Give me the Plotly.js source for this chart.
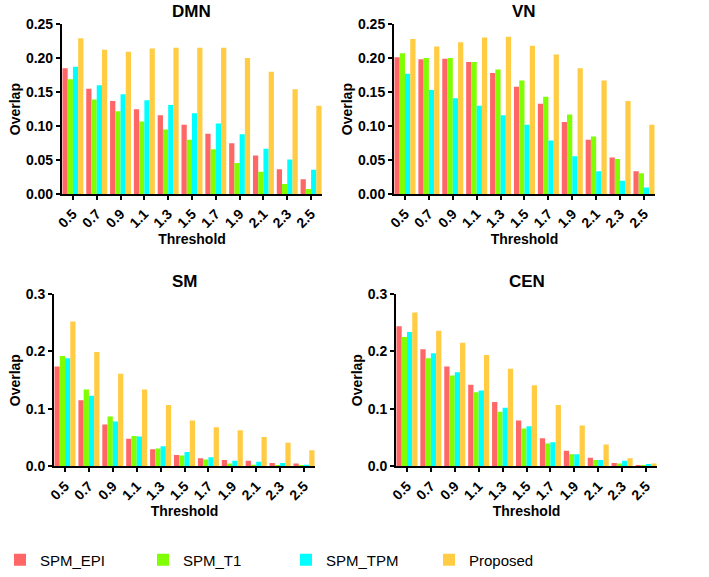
<!DOCTYPE html>
<html>
<head>
<meta charset="utf-8">
<script src="https://cdn.plot.ly/plotly-3.0.1.min.js"></script>
<style>
  html, body { margin: 0; padding: 0; background: #fff; }
  #plot { width: 709px; height: 577px; }
</style>
</head>
<body>
<div id="plot"></div>
<script>
// thresholds shared by all four panels
const thresholds = ['0.5', '0.7', '0.9', '1.1', '1.3', '1.5', '1.7', '1.9', '2.1', '2.3', '2.5'];
const methods = ['SPM_EPI', 'SPM_T1', 'SPM_TPM', 'Proposed'];
const colors = ['#ff6666', '#80ff00', '#00ffff', '#ffcc44'];

// DMN
const dmnEpi = [0.185, 0.155, 0.137, 0.125, 0.116, 0.102, 0.089, 0.075, 0.057, 0.037, 0.022];
const dmnT1 = [0.169, 0.139, 0.122, 0.107, 0.095, 0.080, 0.066, 0.046, 0.033, 0.015, 0.008];
const dmnTpm = [0.187, 0.160, 0.147, 0.138, 0.131, 0.119, 0.104, 0.088, 0.067, 0.051, 0.036];
const dmnProp = [0.229, 0.212, 0.209, 0.214, 0.215, 0.215, 0.215, 0.200, 0.180, 0.154, 0.130];

// VN
const vnEpi = [0.201, 0.198, 0.199, 0.194, 0.178, 0.158, 0.133, 0.106, 0.080, 0.054, 0.034];
const vnT1 = [0.207, 0.200, 0.200, 0.194, 0.183, 0.167, 0.143, 0.117, 0.085, 0.052, 0.031];
const vnTpm = [0.177, 0.153, 0.141, 0.130, 0.116, 0.102, 0.079, 0.056, 0.034, 0.020, 0.010];
const vnProp = [0.228, 0.217, 0.223, 0.230, 0.231, 0.218, 0.205, 0.185, 0.167, 0.137, 0.102];

// SM
const smEpi = [0.174, 0.115, 0.073, 0.048, 0.030, 0.020, 0.014, 0.011, 0.010, 0.006, 0.005];
const smT1 = [0.192, 0.134, 0.087, 0.053, 0.031, 0.019, 0.012, 0.005, 0.003, 0.002, 0.001];
const smTpm = [0.188, 0.123, 0.078, 0.052, 0.035, 0.025, 0.016, 0.010, 0.008, 0.006, 0.003];
const smProp = [0.252, 0.199, 0.161, 0.134, 0.107, 0.080, 0.068, 0.063, 0.051, 0.041, 0.028];

// CEN
const cenEpi = [0.244, 0.204, 0.174, 0.142, 0.112, 0.080, 0.049, 0.027, 0.015, 0.006, 0.002];
const cenT1 = [0.225, 0.188, 0.158, 0.129, 0.095, 0.066, 0.040, 0.021, 0.011, 0.005, 0.002];
const cenTpm = [0.234, 0.197, 0.164, 0.132, 0.102, 0.070, 0.042, 0.021, 0.011, 0.010, 0.004];
const cenProp = [0.268, 0.236, 0.215, 0.194, 0.170, 0.141, 0.107, 0.071, 0.038, 0.014, 0.005];

const panels = [
    {name: 'DMN', series: [dmnEpi, dmnT1, dmnTpm, dmnProp], ax: ''},
    {name: 'VN', series: [vnEpi, vnT1, vnTpm, vnProp], ax: '2'},
    {name: 'SM', series: [smEpi, smT1, smTpm, smProp], ax: '3'},
    {name: 'CEN', series: [cenEpi, cenT1, cenTpm, cenProp], ax: '4'}
];

const data = [];
panels.forEach((p, pi) => {
    p.series.forEach((vals, si) => {
        data.push({
            type: 'bar',
            x: thresholds,
            y: vals,
            name: methods[si],
            marker: {color: colors[si], line: {width: 0}},
            xaxis: 'x' + p.ax,
            yaxis: 'y' + p.ax,
            showlegend: pi === 0,
            hovertemplate: p.name + ' ' + methods[si] + '<br>Threshold %{x}: %{y:.3f}<extra></extra>'
        });
    });
});

const bold = {family: 'Liberation Sans, Arial, sans-serif', size: 14, color: '#000', weight: 'bold'};

function xAxis(domain, anchor) {
    return {
        domain: domain, anchor: anchor, type: 'category',
        range: [-0.46, 10.46],
        showline: true, linecolor: '#000', linewidth: 2,
        ticks: 'outside', ticklen: 4, tickwidth: 2, tickcolor: '#000',
        tickangle: -45, tickfont: bold, showgrid: false, zeroline: false,
        title: {text: 'Threshold', font: {...bold, size: 14}, standoff: 4},
        fixedrange: true
    };
}

function yAxis(domain, anchor, max, dtick, fmt) {
    return {
        domain: domain, anchor: anchor,
        range: [0, max], dtick: dtick, tickformat: fmt,
        showline: true, linecolor: '#000', linewidth: 2,
        ticks: 'outside', ticklen: 4, tickwidth: 2, tickcolor: '#000',
        tickfont: bold, showgrid: false, zeroline: false,
        title: {text: 'Overlap', font: {...bold, size: 14}, standoff: 2},
        fixedrange: true
    };
}

const topRow = [0.6620, 0.9584];
const botRow = [0.1889, 0.4887];

const layout = {
    width: 709, height: 577,
    margin: {l: 0, r: 0, t: 0, b: 0},
    paper_bgcolor: '#fff', plot_bgcolor: '#fff',
    font: {family: 'Liberation Sans, Arial, sans-serif', color: '#000'},
    barmode: 'group', bargap: 0.12, bargroupgap: 0,
    xaxis: xAxis([0.0874, 0.4542], 'y'),
    yaxis: yAxis(topRow, 'x', 0.25, 0.05, '.2f'),
    xaxis2: xAxis([0.5557, 0.9238], 'y2'),
    yaxis2: yAxis(topRow, 'x2', 0.25, 0.05, '.2f'),
    xaxis3: xAxis([0.0762, 0.4443], 'y3'),
    yaxis3: yAxis(botRow, 'x3', 0.3, 0.1, '.1f'),
    xaxis4: xAxis([0.5585, 0.9267], 'y4'),
    yaxis4: yAxis(botRow, 'x4', 0.3, 0.1, '.1f'),
    annotations: panels.map(p => ({
        text: p.name, showarrow: false,
        xref: 'x' + p.ax + ' domain', yref: 'y' + p.ax + ' domain',
        x: 0.5, y: 1, yanchor: 'bottom', yshift: 1,
        font: {...bold, size: 17}
    })),
    legend: {
        orientation: 'h', x: 0, xanchor: 'left', y: 0.026, yanchor: 'middle',
        entrywidth: 98, entrywidthmode: 'pixels',
        font: {family: 'Liberation Sans, Arial, sans-serif', size: 15, color: '#000'},
        bgcolor: 'rgba(0,0,0,0)'
    }
};

Plotly.newPlot('plot', data, layout, {displayModeBar: false, responsive: false});
</script>
</body>
</html>
